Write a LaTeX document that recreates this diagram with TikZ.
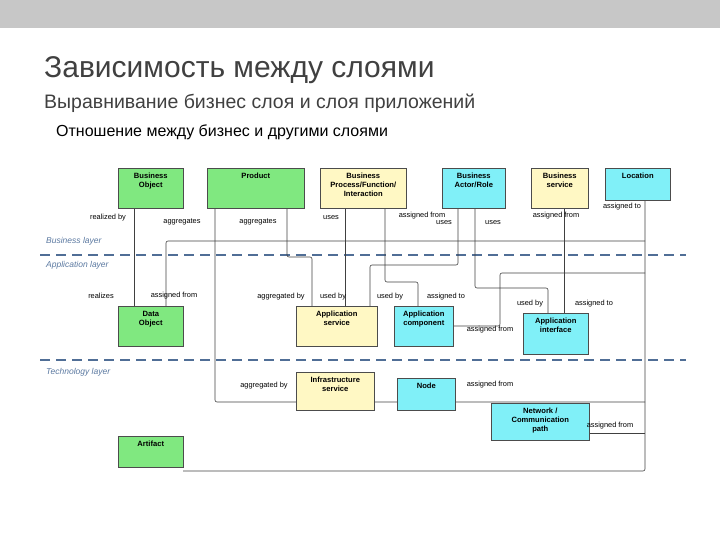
\documentclass[tikz,border=0pt]{standalone}
\usepackage{fontspec}
\setmainfont{Liberation Sans}
\definecolor{gbox}{RGB}{128,232,128}
\definecolor{ybox}{RGB}{255,248,196}
\definecolor{cbox}{RGB}{128,240,248}
\definecolor{layer}{RGB}{80,110,150}
\definecolor{layertxt}{RGB}{90,120,160}
\begin{document}
\begin{tikzpicture}[x=1pt,y=-1pt,
 box/.style={draw=black!70,line width=0.6pt,anchor=north west,inner sep=0pt},
 bt/.style={label={[align=center,font=\bfseries\fontsize{7.6}{9}\selectfont,anchor=north,inner sep=2pt,yshift=-3pt]north:{#1}}},
 lbl/.style={font=\fontsize{7.4}{8}\selectfont,inner sep=1pt},
 ln/.style={draw=black!75,line width=0.6pt,rounded corners=2pt},
 ltxt/.style={font=\itshape\fontsize{8.5}{10}\selectfont,text=layertxt,anchor=west,inner sep=0pt}]
\useasboundingbox (0,0) rectangle (720,540);
\fill[black!22] (0,0) rectangle (720,28);
\node[anchor=west,inner sep=0pt,font=\fontsize{30}{34}\selectfont,text=black!75] (t1) at (44,70) {Зависимость между слоями};
\node[anchor=west,inner sep=0pt,font=\fontsize{19.5}{22}\selectfont,text=black!75] (t2) at (44,103) {Выравнивание бизнес слоя и слоя приложений};
\node[anchor=west,inner sep=0pt,font=\fontsize{16}{18}\selectfont] (t3) at (56,132) {Отношение между бизнес и другими слоями};
% layers
\draw[layer,line width=1.8pt,dash pattern=on 10pt off 6pt] (40,255) -- (686,255);
\draw[layer,line width=1.8pt,dash pattern=on 10pt off 6pt] (40,360) -- (686,360);
\node[ltxt] (l1) at (46,241) {Business layer};
\node[ltxt] (l2) at (46,265) {Application layer};
\node[ltxt] (l3) at (46,372) {Technology layer};
% connectors (under boxes)
\draw[ln] (166,306) -- (166,241) -- (645,241);
\draw[ln] (645,200) -- (645,471) -- (183,471);
\draw[ln] (215,208) -- (215,402) -- (645,402);
\draw[ln] (134,208) -- (134,306);
\draw[ln] (287,208) -- (287,257) -- (312,257) -- (312,306);
\draw[ln] (345,208) -- (345,306);
\draw[ln] (385,208) -- (385,282) -- (418,282) -- (418,306);
\draw[ln] (370,306) -- (370,265) -- (458,265) -- (458,208);
\draw[ln] (475,208) -- (475,288) -- (548,288) -- (548,313);
\draw[ln] (564,208) -- (564,313);
\draw[ln] (453,326) -- (500,326) -- (500,273) -- (645,273);
\draw[ln] (589,433) -- (645,433);
% boxes
\node[box,fill=gbox,minimum width=65pt,minimum height=40pt,bt={Business\\Object}] (bo) at (118,168) {};
\node[box,fill=gbox,minimum width=97pt,minimum height=40pt,bt={Product}] (pr) at (207,168) {};
\node[box,fill=ybox,minimum width=86pt,minimum height=40pt,bt={Business\\Process/Function/\\Interaction}] (bp) at (320,168) {};
\node[box,fill=cbox,minimum width=63pt,minimum height=40pt,bt={Business\\Actor/Role}] (ba) at (442,168) {};
\node[box,fill=ybox,minimum width=57pt,minimum height=40pt,bt={Business\\service}] (bs) at (531,168) {};
\node[box,fill=cbox,minimum width=65pt,minimum height=32pt,bt={Location}] (lo) at (605,168) {};
\node[box,fill=gbox,minimum width=65pt,minimum height=40pt,bt={Data\\Object}] (do) at (118,306) {};
\node[box,fill=ybox,minimum width=81pt,minimum height=40pt,bt={Application\\service}] (as) at (296,306) {};
\node[box,fill=cbox,minimum width=59pt,minimum height=40pt,bt={Application\\component}] (ac) at (394,306) {};
\node[box,fill=cbox,minimum width=65pt,minimum height=41pt,bt={Application\\interface}] (ai) at (523,313) {};
\node[box,fill=ybox,minimum width=78pt,minimum height=38pt,bt={Infrastructure\\service}] (is) at (296,372) {};
\node[box,fill=cbox,minimum width=58pt,minimum height=32pt,bt={Node}] (nd) at (397,378) {};
\node[box,fill=cbox,minimum width=98pt,minimum height=37pt,bt={Network /\\Communication\\path}] (nw) at (491,403) {};
\node[box,fill=gbox,minimum width=65pt,minimum height=31pt,bt={Artifact}] (ar) at (118,436) {};
% labels
\node[lbl] (a1) at (108,218) {realized by};
\node[lbl] (a2) at (182,222) {aggregates};
\node[lbl] (a3) at (258,222) {aggregates};
\node[lbl] (a4) at (331,218) {uses};
\node[lbl] (a5) at (422,216) {assigned from};
\node[lbl] (a6) at (444,223) {uses};
\node[lbl] (a7) at (493,223) {uses};
\node[lbl] (a8) at (556,216) {assigned from};
\node[lbl] (a9) at (622,207) {assigned to};
\node[lbl] (b1) at (101,296) {realizes};
\node[lbl] (b2) at (174,296) {assigned from};
\node[lbl] (b3) at (281,297) {aggregated by};
\node[lbl] (b4) at (333,297) {used by};
\node[lbl] (b5) at (390,297) {used by};
\node[lbl] (b6) at (446,297) {assigned to};
\node[lbl] (b7) at (530,304) {used by};
\node[lbl] (b8) at (594,304) {assigned to};
\node[lbl] (b9) at (490,330) {assigned from};
\node[lbl] (c1) at (264,386) {aggregated by};
\node[lbl] (c2) at (490,385) {assigned from};
\node[lbl] (c3) at (610,426) {assigned from};
\end{tikzpicture}
\end{document}
